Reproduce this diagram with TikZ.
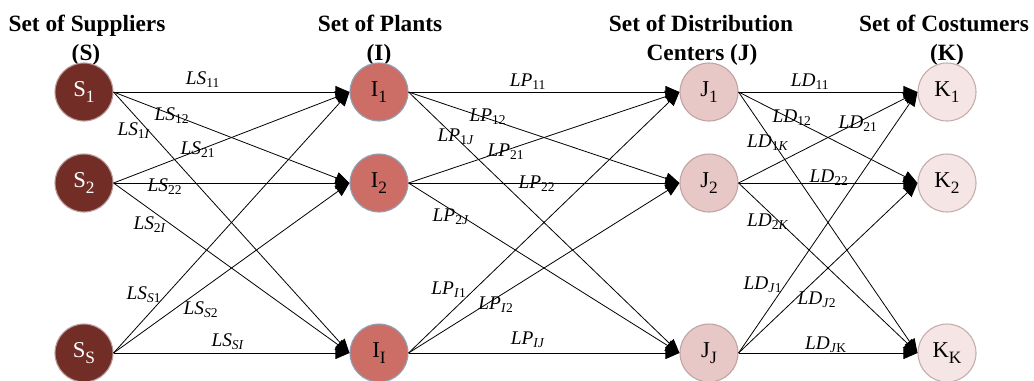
\documentclass[tikz,border=0pt]{standalone}
\usepackage{fontspec}
\setmainfont{Liberation Serif}
\usetikzlibrary{arrows.meta}

\definecolor{supfill}{HTML}{722E26}
\definecolor{supline}{HTML}{B89A98}
\definecolor{plantfill}{HTML}{CC6E66}
\definecolor{plantline}{HTML}{8FA3B8}
\definecolor{dcfill}{HTML}{E8C8C7}
\definecolor{dcline}{HTML}{BFA3A3}
\definecolor{custfill}{HTML}{F5E6E5}
\definecolor{custline}{HTML}{C4ACAC}

\newcommand\headfont{\fontsize{17.5}{20}\selectfont\bfseries}
\newcommand\nodefont{\fontsize{17}{20}\selectfont}
\newcommand\labfont{\fontsize{14.5}{16}\selectfont}
% italic link name with its index set as a subscript
\newcommand\lnk[2]{\textit{#1}\textsubscript{#2}}
% node index: a large, well lowered subscript
\newcommand\nsub[1]{\raisebox{-4pt}{\fontsize{13}{14}\selectfont #1}}

\tikzset{
  setnode/.style={circle, minimum size=43.5pt, inner sep=0pt, line width=0.8pt, font=\nodefont},
  supnode/.style={setnode, fill=supfill, draw=supline, text=white},
  plantnode/.style={setnode, fill=plantfill, draw=plantline},
  dcnode/.style={setnode, fill=dcfill, draw=dcline},
  custnode/.style={setnode, fill=custfill, draw=custline},
  flow/.style={draw=black, line width=0.6pt, -{Triangle[length=10.5pt,width=9pt]}},
  lab/.style={font=\labfont, inner sep=0pt},
  head/.style={font=\headfont, inner sep=0pt, anchor=base}
}

\begin{document}
\begin{tikzpicture}[x=0.75pt,y=-0.75pt]
\useasboundingbox (0,0) rectangle (1034,380);
\fill[white] (0,0) rectangle (1034,380);

% column headings
\node[head] (h1a) at (87,31) {Set of Suppliers};
\node[head] (h1b) at (86,60) {(S)};
\node[head] (h2a) at (380,31) {Set of Plants};
\node[head] (h2b) at (379,60) {(I)};
\node[head] (h3a) at (701,31) {Set of Distribution};
\node[head] (h3b) at (702,60) {Centers (J)};
\node[head] (h4a) at (944,31) {Set of Costumers};
\node[head] (h4b) at (947,60) {(K)};

% suppliers
\node[supnode] (s1) at (84,92)  {S\nsub{1}};
\node[supnode] (s2) at (84,183) {S\nsub{2}};
\node[supnode] (ss) at (84,353) {S\nsub{S}};
% plants
\node[plantnode] (i1) at (379,92)  {I\nsub{1}};
\node[plantnode] (i2) at (379,183) {I\nsub{2}};
\node[plantnode] (ii) at (379,353) {I\nsub{I}};
% distribution centers
\node[dcnode] (j1) at (709,92)  {J\nsub{1}};
\node[dcnode] (j2) at (709,183) {J\nsub{2}};
\node[dcnode] (jj) at (709,353) {J\nsub{J}};
% customers
\node[custnode] (k1) at (947,92)  {K\nsub{1}};
\node[custnode] (k2) at (947,183) {K\nsub{2}};
\node[custnode] (kk) at (947,353) {K\nsub{K}};

% flows between consecutive layers
\foreach \a in {s1,s2,ss}{
  \foreach \b in {i1,i2,ii}{
    \draw[flow] (\a.east) -- (\b.west);
  }
}
\foreach \a in {i1,i2,ii}{
  \foreach \b in {j1,j2,jj}{
    \draw[flow] (\a.east) -- (\b.west);
  }
}
\foreach \a in {j1,j2,jj}{
  \foreach \b in {k1,k2,kk}{
    \draw[flow] (\a.east) -- (\b.west);
  }
}

% supplier-plant link labels
\node[lab] (ls11) at (203,80)  {\lnk{LS}{11}};
\node[lab] (ls12) at (172,116) {\lnk{LS}{12}};
\node[lab] (ls1i) at (134,131) {\lnk{LS}{1\textit{I}}};
\node[lab] (ls21) at (198,150) {\lnk{LS}{21}};
\node[lab] (ls22) at (165,187) {\lnk{LS}{22}};
\node[lab] (ls2i) at (150,225) {\lnk{LS}{2\textit{I}}};
\node[lab] (lss1) at (144,295) {\lnk{LS}{\textit{S}1}};
\node[lab] (lss2) at (201,310) {\lnk{LS}{\textit{S}2}};
\node[lab] (lssi) at (228,342) {\lnk{LS}{\textit{SI}}};

% plant-center link labels
\node[lab] (lp11) at (528,82)  {\lnk{LP}{11}};
\node[lab] (lp12) at (488,117) {\lnk{LP}{12}};
\node[lab] (lp1j) at (456,137) {\lnk{LP}{1\textit{J}}};
\node[lab] (lp21) at (506,152) {\lnk{LP}{21}};
\node[lab] (lp22) at (537,184) {\lnk{LP}{22}};
\node[lab] (lp2j) at (451,217) {\lnk{LP}{2\textit{J}}};
\node[lab] (lpi1) at (449,290) {\lnk{LP}{\textit{I}1}};
\node[lab] (lpi2) at (496,305) {\lnk{LP}{\textit{I}2}};
\node[lab] (lpij) at (528,340) {\lnk{LP}{\textit{IJ}}};

% center-customer link labels
\node[lab] (ld11) at (810,82)  {\lnk{LD}{11}};
\node[lab] (ld12) at (792,118) {\lnk{LD}{12}};
\node[lab] (ld21) at (858,124) {\lnk{LD}{21}};
\node[lab] (ld1k) at (768,143) {\lnk{LD}{1\textit{K}}};
\node[lab] (ld22) at (829,178) {\lnk{LD}{22}};
\node[lab] (ld2k) at (768,222) {\lnk{LD}{2\textit{K}}};
\node[lab] (ldj1) at (763,285) {\lnk{LD}{\textit{J}1}};
\node[lab] (ldj2) at (817,300) {\lnk{LD}{\textit{J}2}};
\node[lab] (ldjk) at (826,345) {\lnk{LD}{\textit{J}K}};
\end{tikzpicture}
\end{document}
